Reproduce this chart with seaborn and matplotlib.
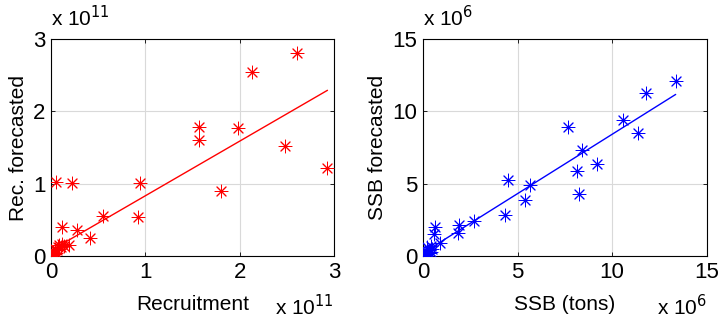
import matplotlib
matplotlib.use("Agg")
import matplotlib.pyplot as plt
import numpy as np
import pandas as pd
import seaborn as sns

# %% data (in units of 1e11 and 1e6)
rec_obs = [2.61, 2.13, 1.57, 1.57, 1.98, 2.48, 2.93, 1.80, 0.94, 0.92, 0.55,
           0.05, 0.22, 0.12, 0.27, 0.41, 0.19,
           0.10, 0.08, 0.06, 0.05, 0.03, 0.02, 0.01, 0.04, 0.00, 0.02, 0.07, 0.12, 0.14]
rec_fc = [2.81, 2.54, 1.79, 1.60, 1.77, 1.52, 1.22, 0.90, 1.01, 0.54, 0.56,
          1.02, 1.01, 0.40, 0.36, 0.25, 0.15,
          0.12, 0.15, 0.08, 0.05, 0.03, 0.02, 0.01, 0.10, 0.00, 0.06, 0.12, 0.17, 0.14]
rec_slope, rec_intercept = 0.755, 0.08

ssb_obs = [13.36, 11.78, 10.55, 11.38, 7.68, 8.42, 9.21, 8.16, 8.23, 4.48, 5.68,
           5.40, 4.31, 2.71, 1.88, 1.85, 0.62, 0.56, 0.91,
           0.40, 0.50, 0.30, 0.20, 0.30, 0.10, 0.05, 0.15, 0.40, 0.00, 0.20]
ssb_fc = [12.09, 11.28, 9.44, 8.54, 8.93, 7.32, 6.35, 5.86, 4.32, 5.28, 4.89,
          3.85, 2.82, 2.40, 2.12, 1.59, 2.01, 1.55, 0.90,
          0.70, 0.50, 0.40, 0.30, 0.20, 0.10, 0.05, 0.20, 0.30, 0.00, 0.60]
ssb_slope, ssb_intercept = 0.82, 0.22

ticks = [0, 1, 2, 3]
ssb_ticks = [0, 5, 10, 15]

# %%
sns.set_theme(style="ticks")
plt.rcParams["font.family"] = ["Liberation Sans", "DejaVu Sans"]
plt.rcParams["text.color"] = "black"
plt.rcParams["axes.labelcolor"] = "black"

fig = plt.figure(figsize=(7.2, 3.23), dpi=100)
ax1 = fig.add_axes([0.071, 0.207, 0.393, 0.672])
ax2 = fig.add_axes([0.5875, 0.207, 0.394, 0.672])

star = (8, 2, 0)


def panel(ax, x, y, slope, intercept, color, lim, tk, xlabel, ylabel, expo):
    df = pd.DataFrame({"x": x, "y": y})
    sns.scatterplot(df, x="x", y="y", ax=ax, marker=star, s=85, color=color,
                    linewidth=0.7, edgecolor=color, zorder=3)
    xs = np.array([min(x), max(x)])
    fit = pd.DataFrame({"x": xs, "y": slope * xs + intercept})
    sns.lineplot(fit, x="x", y="y", ax=ax, color=color, linewidth=1.0, zorder=2)
    ax.set_xlim(lim)
    ax.set_ylim(lim)
    ax.set_xticks(tk)
    ax.set_yticks(tk)
    ax.grid(True, color="#d9d9d9", linewidth=0.8)
    ax.tick_params(direction="in", length=3, labelsize=16, pad=4, width=0.6,
                   top=True, right=True, colors="black")
    for sp in ax.spines.values():
        sp.set_color("black")
        sp.set_linewidth(0.8)
    ax.set_xlabel(xlabel, fontsize=15, labelpad=9)
    ax.set_ylabel(ylabel, fontsize=15, labelpad=4)
    ax.text(0.0, 1.04, r"x 10$^{%d}$" % expo, transform=ax.transAxes,
            fontsize=15, ha="left", va="bottom")
    ax.text(1.0, -0.175, r"x 10$^{%d}$" % expo, transform=ax.transAxes,
            fontsize=15, ha="right", va="top")


panel(ax1, rec_obs, rec_fc, rec_slope, rec_intercept, "#ff0000", (0, 3), ticks,
      "Recruitment", "Rec. forecasted", 11)
panel(ax2, ssb_obs, ssb_fc, ssb_slope, ssb_intercept, "#0000ff", (0, 15), ssb_ticks,
      "SSB (tons)", "SSB forecasted", 6)

plt.savefig("out.png", dpi=100)
